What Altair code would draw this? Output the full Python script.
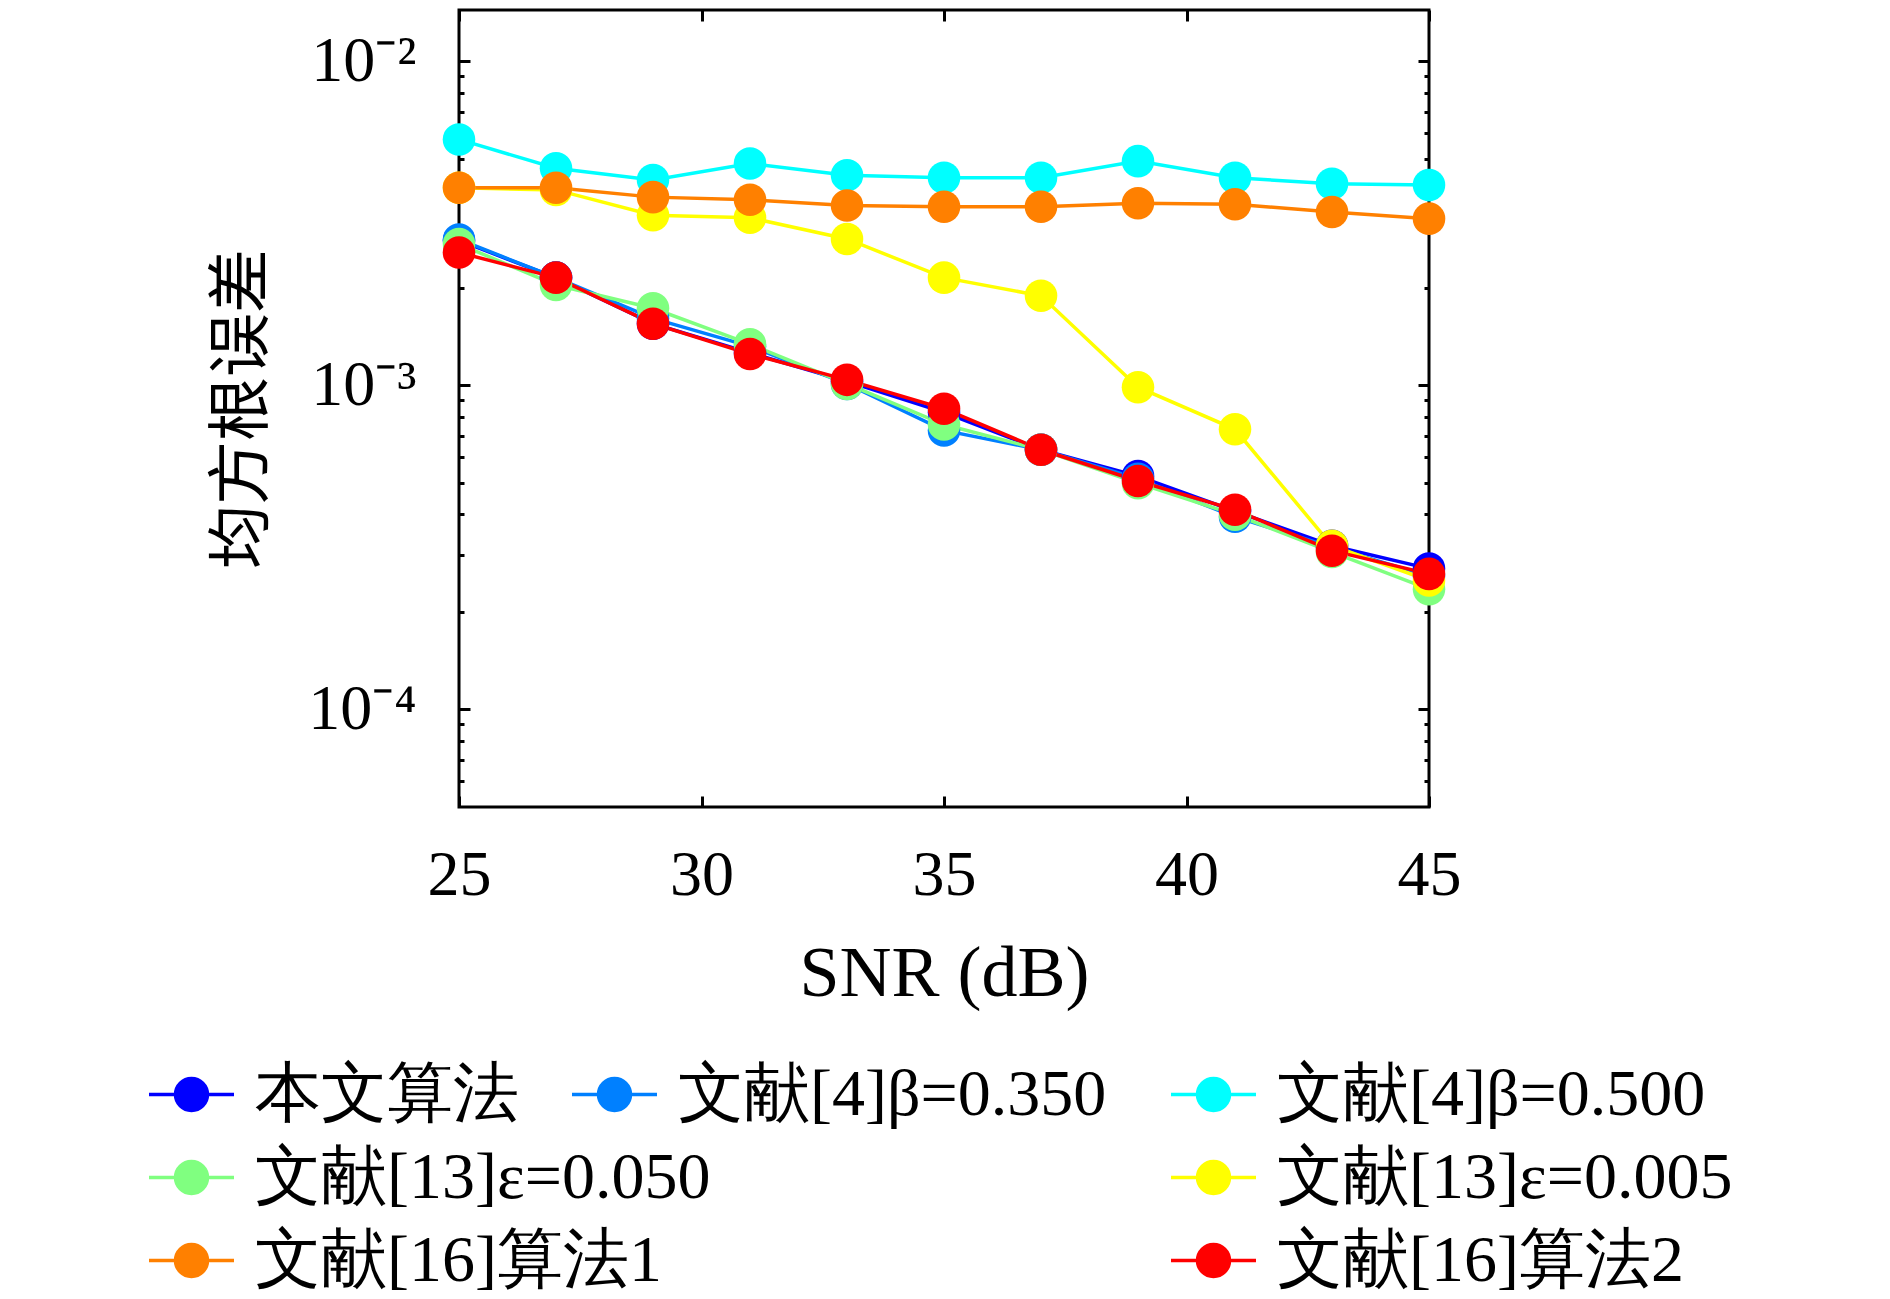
import altair as alt
import pandas as pd

snr = [25, 27, 29, 31, 33, 35, 37, 39, 41, 43, 45]

series_names = [
    "本文算法",
    "文献[4]β=0.350",
    "文献[4]β=0.500",
    "文献[13]ε=0.050",
    "文献[13]ε=0.005",
    "文献[16]算法1",
    "文献[16]算法2",
]
series_colors = ["#0000ff", "#0080ff", "#00ffff", "#80ff80", "#ffff00", "#ff8000", "#ff0000"]

rmse_ours = [2.80e-3, 2.15e-3, 1.55e-3, 1.26e-3, 1.03e-3, 8.26e-4, 6.33e-4, 5.25e-4, 4.09e-4, 3.20e-4, 2.72e-4]
rmse_beta035 = [2.82e-3, 2.15e-3, 1.61e-3, 1.32e-3, 1.01e-3, 7.26e-4, 6.33e-4, 5.15e-4, 3.93e-4, 3.17e-4, 2.58e-4]
rmse_beta050 = [5.74e-3, 4.68e-3, 4.30e-3, 4.84e-3, 4.45e-3, 4.37e-3, 4.37e-3, 4.92e-3, 4.37e-3, 4.19e-3, 4.15e-3]
rmse_eps050 = [2.73e-3, 2.04e-3, 1.73e-3, 1.34e-3, 1.01e-3, 7.57e-4, 6.33e-4, 4.99e-4, 3.99e-4, 3.06e-4, 2.35e-4]
rmse_eps005 = [4.07e-3, 4.01e-3, 3.35e-3, 3.29e-3, 2.83e-3, 2.15e-3, 1.89e-3, 9.87e-4, 7.32e-4, 3.20e-4, 2.50e-4]
rmse_alg1 = [4.07e-3, 4.07e-3, 3.81e-3, 3.74e-3, 3.59e-3, 3.56e-3, 3.56e-3, 3.65e-3, 3.62e-3, 3.43e-3, 3.27e-3]
rmse_alg2 = [2.57e-3, 2.15e-3, 1.55e-3, 1.25e-3, 1.04e-3, 8.47e-4, 6.33e-4, 5.07e-4, 4.13e-4, 3.09e-4, 2.62e-4]

all_series = [rmse_ours, rmse_beta035, rmse_beta050, rmse_eps050, rmse_eps005, rmse_alg1, rmse_alg2]

x_ticks = [25, 30, 35, 40, 45]
y_major = [1e-4, 1e-3, 1e-2]
y_minor = [6e-5, 7e-5, 8e-5, 9e-5,
           2e-4, 3e-4, 4e-4, 5e-4, 6e-4, 7e-4, 8e-4, 9e-4,
           2e-3, 3e-3, 4e-3, 5e-3, 6e-3, 7e-3, 8e-3, 9e-3]

# legend groups (as laid out in the reference legend columns)
group_a = [0, 3, 5]
group_b = [1]
group_c = [2, 4, 6]

rows = []
for name, vals in zip(series_names, all_series):
    for s, v in zip(snr, vals):
        rows.append({"snr": s, "rmse": v, "series": name})
df = pd.DataFrame(rows)

W, H = 970, 797
LATIN = "Liberation Serif"
CJK = "Noto Sans CJK SC"

xs = alt.Scale(domain=[25, 45], nice=False, zero=False)
ys = alt.Scale(type="log", domain=[5e-5, 0.0144], nice=False)

label_expr = ("datum.value > 0.005 ? '10⁻²' : (datum.value > 0.0005 ? '10⁻³' : '10⁻⁴')")

color_all = alt.Color("series:N", scale=alt.Scale(domain=series_names, range=series_colors), legend=None)

base = alt.Chart(df)

lines = base.mark_line(strokeWidth=3.5).encode(color=color_all, detail="series:N")
points = base.mark_point(filled=True, size=1060, opacity=1).encode(color=color_all)

main = alt.layer(lines, points).encode(
    x=alt.X("snr:Q", scale=xs, axis=alt.Axis(
        values=x_ticks, format="d", ticks=False, tickSize=0, domain=False, grid=False,
        labelFlush=False, labelOverlap=False,
        labelFont=LATIN, labelFontSize=64, labelColor="black", labelPadding=36,
        title="SNR (dB)", titleFont=LATIN, titleFontSize=72, titleFontWeight="normal",
        titleColor="black", titlePadding=31)),
    y=alt.Y("rmse:Q", scale=ys, axis=alt.Axis(
        values=y_major, labelExpr=label_expr, ticks=False, tickSize=0, domain=False, grid=False,
        labelFlush=False, labelOverlap=False,
        labelFont=LATIN, labelFontSize=64, labelColor="black", labelPadding=43,
        title="均方根误差", titleFont=CJK, titleFontSize=64, titleFontWeight="normal",
        titleColor="black", titlePadding=33)),
)

SYMBOL = "M-1,0L1,0M0.376,0A0.376,0.376,0,1,1,-0.376,0A0.376,0.376,0,1,1,0.376,0Z"


def legend_for(lx, ly):
    return alt.Legend(
        title=None, orient="none", legendX=lx, legendY=ly, direction="vertical",
        symbolType=SYMBOL, symbolSize=7225, symbolStrokeWidth=3.5, symbolOpacity=1,
        labelFont=LATIN, labelFontSize=66, labelColor="black", labelLimit=2000,
        labelOffset=19, rowPadding=5, padding=0, offset=0,
    )


def legend_layer(idx, lx, ly, xaxis, yaxis):
    names = [series_names[i] for i in idx]
    cols = [series_colors[i] for i in idx]
    sc = alt.Scale(domain=names, range=cols)
    lg = legend_for(lx, ly)
    enc = dict(
        fill=alt.Fill("series:N", scale=sc, legend=lg),
        stroke=alt.Stroke("series:N", scale=sc, legend=lg),
        y=alt.Y("rmse:Q", scale=ys, axis=yaxis),
        x=alt.X("snr:Q", scale=xs, axis=xaxis),
    )
    return base.transform_filter("false").mark_point(filled=True, size=100, opacity=1).encode(**enc)


def tick_axis(orient, values, size):
    off = -H if orient in ("top", "bottom") else -W
    return alt.Axis(orient=orient, offset=off, values=values, labels=False, ticks=True,
                    tickSize=size, tickWidth=3, tickColor="black", domain=False,
                    grid=False, title=None)


LY = 1040
leg_a = legend_layer(group_a, -312, LY, tick_axis("top", x_ticks, 11), tick_axis("right", y_major, 11))
leg_b = legend_layer(group_b, 111, LY, tick_axis("bottom", x_ticks, 11), tick_axis("left", y_major, 11))
leg_c = legend_layer(group_c, 710, LY, None, tick_axis("right", y_minor, 5))

extra = base.transform_filter("false").mark_point().encode(
    x=alt.X("snr:Q", scale=xs, axis=None),
    y=alt.Y("rmse:Q", scale=ys, axis=tick_axis("left", y_minor, 5)),
)

chart = (
    alt.layer(main, leg_a, leg_b, leg_c, extra)
    .resolve_scale(color="independent", fill="independent", stroke="independent")
    .resolve_axis(x="independent", y="independent")
    .properties(width=W, height=H, padding={"left": 139, "top": 0, "right": 0, "bottom": 0},
                background="white")
    .configure_view(stroke="black", strokeWidth=3)
)

chart.save("out.html", embed_options={"renderer": "svg", "actions": False})
